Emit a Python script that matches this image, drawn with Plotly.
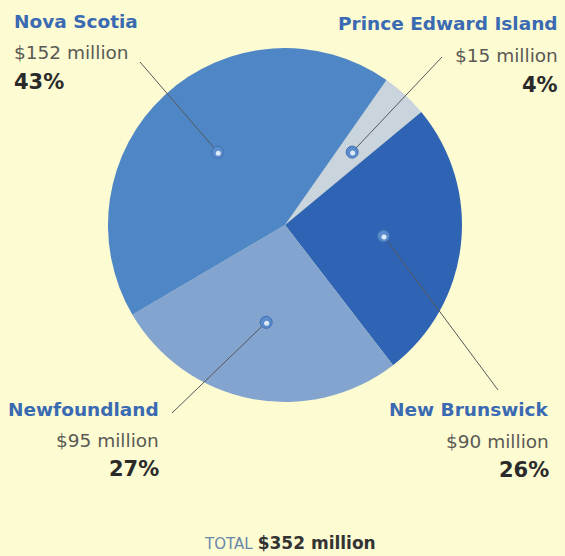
import math
import plotly.graph_objects as go

# ---- data ----
provinces = ["Prince Edward Island", "New Brunswick", "Newfoundland", "Nova Scotia"]
values = [15, 90, 95, 152]  # $ million
value_labels = ["$15 million", "$90 million", "$95 million", "$152 million"]
share_labels = ["4%", "26%", "27%", "43%"]
total_label = "$352 million"

# ---- styles / layout ----
colors = ["#c9d4dd", "#2f64b4", "#82a4cf", "#4f86c6"]
BG = "#fdfbd2"
TITLE_C = "#3a6ab2"
VALUE_C = "#5a5a55"
PCT_C = "#2a2a2a"
FONT = "DejaVu Sans"

W, H = 565, 556
CX, CY, R = 285, 225, 177
ROT = 35

# label placement (pixels): anchor, x, y of title/value/pct, leader end point
placement = {
    "Nova Scotia": dict(xa="left", x=12, ys=(22, 53, 82), end=(140, 62)),
    "Prince Edward Island": dict(xa="right", x=560, ys=(24, 55, 85), end=(442, 57)),
    "Newfoundland": dict(xa="right", x=161, ys=(409, 440, 469), end=(172, 413)),
    "New Brunswick": dict(xa="right", x=551, ys=(409, 441, 470), end=(498, 390)),
}


def px(x):
    return x / W


def py(y):
    return 1 - y / H


fig = go.Figure()
fig.add_trace(go.Pie(
    labels=provinces, values=values, sort=False, direction="clockwise",
    rotation=ROT, marker=dict(colors=colors, line=dict(width=0)),
    textinfo="none", hoverinfo="label+value+percent", showlegend=False,
    domain=dict(x=[px(CX - R), px(CX + R)], y=[py(CY + R), py(CY - R)]),
))

annotations = []
shapes = []
total = sum(values)
start = ROT
for name, val, vlab, slab in zip(provinces, values, value_labels, share_labels):
    span = val / total * 360
    mid = math.radians(start + span / 2)
    start += span
    dx = CX + 0.56 * R * math.sin(mid)
    dy = CY - 0.56 * R * math.cos(mid)
    p = placement[name]
    # leader line
    ex, ey = p["end"]
    shapes.append(dict(type="line", xref="paper", yref="paper", layer="above",
                       x0=px(ex), y0=py(ey), x1=px(dx), y1=py(dy),
                       line=dict(color="#55585c", width=1)))
    # dot
    rr = 6
    shapes.append(dict(type="circle", xref="paper", yref="paper", layer="above",
                       x0=px(dx - rr), x1=px(dx + rr), y0=py(dy + rr), y1=py(dy - rr),
                       fillcolor="#5b8ccb", line=dict(color="#3f6fb3", width=1)))
    hr = 2.5
    shapes.append(dict(type="circle", xref="paper", yref="paper", layer="above",
                       x0=px(dx + 0.5 - hr), x1=px(dx + 0.5 + hr),
                       y0=py(dy + 1 + hr), y1=py(dy + 1 - hr),
                       fillcolor="#dfeaf7", line=dict(width=0)))
    # labels
    texts = [(name, dict(family=FONT, size=18.5, color=TITLE_C), True),
             (vlab, dict(family=FONT, size=18.5, color=VALUE_C), False),
             (slab, dict(family=FONT, size=21, color=PCT_C), True)]
    for (t, f, bold), yy in zip(texts, p["ys"]):
        annotations.append(dict(
            text=f"<b>{t}</b>" if bold else t, x=px(p["x"]), y=py(yy),
            xref="paper", yref="paper", xanchor=p["xa"], yanchor="middle",
            showarrow=False, font=f))

annotations.append(dict(
    text=(f"<span style='color:#6a86aa;font-size:15px'>TOTAL</span> "
          f"<b><span style='color:#333333;font-size:17px'>{total_label}</span></b>"),
    x=px(290), y=py(543), xref="paper", yref="paper", xanchor="center",
    yanchor="middle", showarrow=False, font=dict(family=FONT, size=16)))

fig.update_layout(
    width=W, height=H, margin=dict(l=0, r=0, t=0, b=0),
    paper_bgcolor=BG, plot_bgcolor=BG,
    annotations=annotations, shapes=shapes,
)

fig.write_html("out.html")
